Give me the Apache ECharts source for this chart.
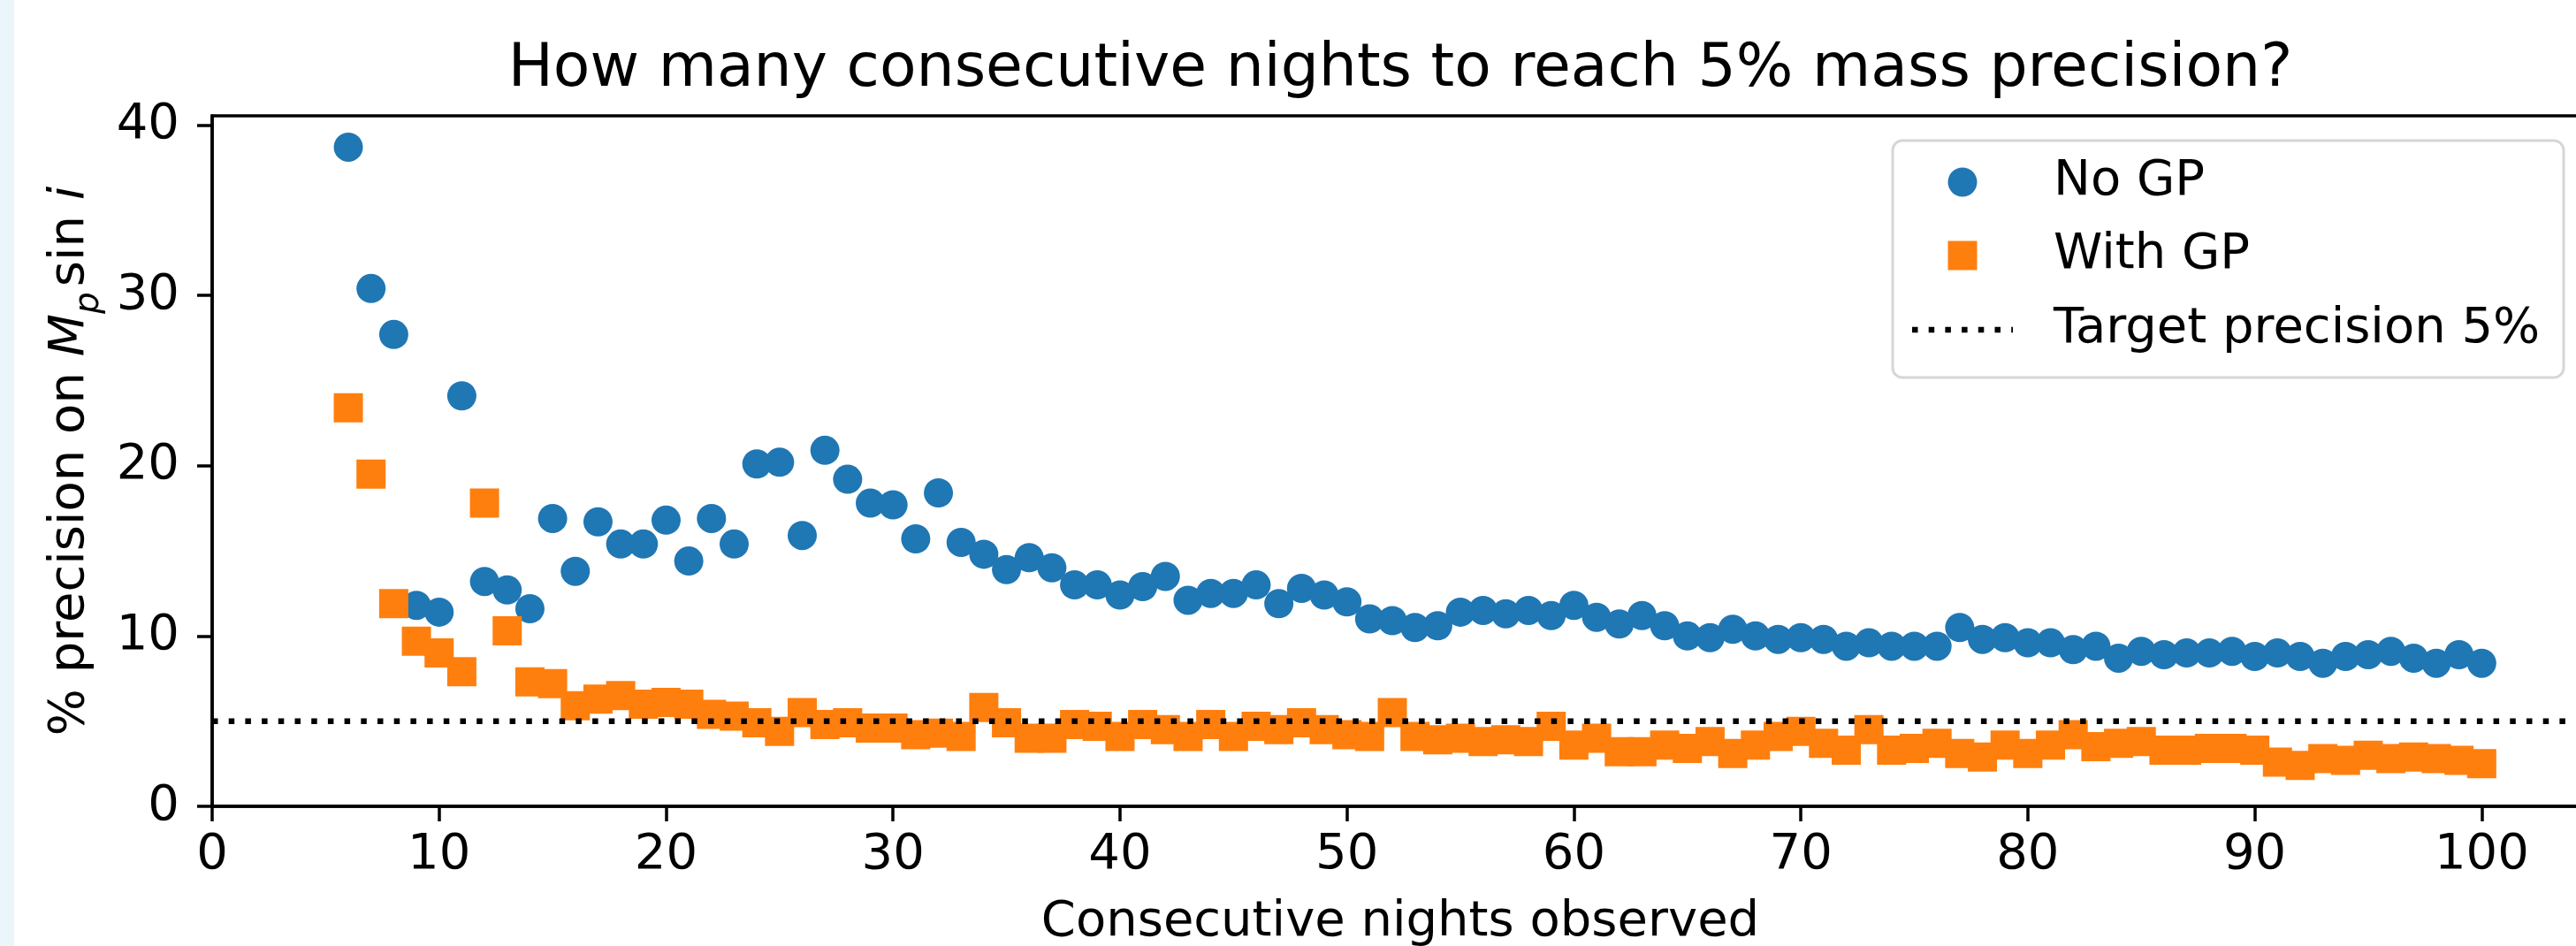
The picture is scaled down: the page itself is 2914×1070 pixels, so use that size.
<!DOCTYPE html>
<html>
<head>
<meta charset="utf-8">
<title>Consecutive nights vs mass precision</title>
<script src="https://cdn.jsdelivr.net/npm/echarts@6/dist/echarts.min.js"></script>
<style>
  html, body { margin: 0; padding: 0; background: #ffffff; overflow: hidden; }
  #chart { width: 2914px; height: 1070px; }
</style>
</head>
<body>
<div id="chart"></div>
<script>
// Number of consecutive nights in each simulated observing run
const nights = [
  6, 7, 8, 9, 10, 11, 12, 13, 14, 15, 16, 17, 18, 19, 20, 21, 22, 23, 24, 25,
  26, 27, 28, 29, 30, 31, 32, 33, 34, 35, 36, 37, 38, 39, 40, 41, 42, 43, 44, 45,
  46, 47, 48, 49, 50, 51, 52, 53, 54, 55, 56, 57, 58, 59, 60, 61, 62, 63, 64, 65,
  66, 67, 68, 69, 70, 71, 72, 73, 74, 75, 76, 77, 78, 79, 80, 81, 82, 83, 84, 85,
  86, 87, 88, 89, 90, 91, 92, 93, 94, 95, 96, 97, 98, 99, 100
];

// % precision on Mp sin i, fit without a Gaussian process
const noGP = [
  38.7, 30.4, 27.7, 11.8, 11.4, 24.1, 13.2, 12.7, 11.6, 16.9, 13.8, 16.7, 15.4, 15.4, 16.8, 14.4, 16.9, 15.4, 20.1, 20.2,
  15.9, 20.9, 19.2, 17.8, 17.7, 15.7, 18.4, 15.5, 14.8, 13.9, 14.6, 14.0, 13.0, 13.0, 12.4, 12.9, 13.5, 12.1, 12.5, 12.5,
  13.0, 11.9, 12.8, 12.4, 12.0, 11.0, 10.9, 10.5, 10.6, 11.4, 11.5, 11.3, 11.5, 11.2, 11.8, 11.1, 10.7, 11.2, 10.6, 10.0,
  9.9, 10.4, 10.0, 9.8, 9.9, 9.8, 9.4, 9.6, 9.4, 9.4, 9.4, 10.5, 9.8, 9.9, 9.6, 9.6, 9.2, 9.4, 8.7, 9.1,
  8.9, 9.0, 9.0, 9.1, 8.8, 9.0, 8.8, 8.4, 8.8, 8.9, 9.1, 8.7, 8.4, 8.9, 8.4
];

// % precision on Mp sin i, fit with a Gaussian process
const withGP = [
  23.4, 19.5, 11.9, 9.7, 9.0, 7.9, 17.8, 10.3, 7.3, 7.2, 5.9, 6.3, 6.5, 6.0, 6.1, 6.0, 5.4, 5.3, 4.9, 4.4,
  5.5, 4.8, 4.9, 4.6, 4.6, 4.2, 4.3, 4.1, 5.8, 4.9, 4.0, 4.0, 4.8, 4.7, 4.1, 4.8, 4.5, 4.1, 4.8, 4.1,
  4.7, 4.5, 4.9, 4.5, 4.2, 4.1, 5.5, 4.1, 3.9, 4.0, 3.8, 3.9, 3.8, 4.7, 3.6, 4.0, 3.2, 3.2, 3.6, 3.4,
  3.8, 3.1, 3.6, 4.1, 4.4, 3.7, 3.3, 4.5, 3.3, 3.4, 3.7, 3.1, 2.9, 3.6, 3.1, 3.6, 4.2, 3.5, 3.7, 3.8,
  3.3, 3.3, 3.4, 3.4, 3.3, 2.6, 2.4, 2.8, 2.7, 3.0, 2.8, 2.9, 2.8, 2.7, 2.5
];

const targetPrecision = 5;

const xTicks = [0, 10, 20, 30, 40, 50, 60, 70, 80, 90, 100];
const yTicks = [0, 10, 20, 30, 40];
const xRange = [0, 104.7];
const yRange = [0, 40.54];

const FONT = 'DejaVu Sans';
const BLUE = '#1f77b4';
const ORANGE = '#ff7f0e';
const DOT = [6.5, 12.2];

const noGPPoints = nights.map((n, i) => [n, noGP[i]]);
const withGPPoints = nights.map((n, i) => [n, withGP[i]]);
const targetLine = [[xRange[0], targetPrecision], [xRange[1], targetPrecision]];

const chart = echarts.init(document.getElementById('chart'), null, { renderer: 'canvas' });

const axisCommon = {
  type: 'value',
  interval: 10,
  splitLine: { show: false },
  axisLine: { show: true, onZero: false, lineStyle: { color: '#000', width: 3.5 } },
  axisTick: { show: true, length: 17, lineStyle: { color: '#000', width: 3.5 } },
  axisLabel: { color: '#000', fontSize: 56, fontFamily: FONT, lineHeight: 56 }
};

chart.setOption({
  animation: false,
  backgroundColor: '#ffffff',
  title: {
    text: 'How many consecutive nights to reach 5% mass precision?',
    left: 1584,
    top: 45,
    textAlign: 'center',
    padding: 0,
    textStyle: { fontSize: 68, fontWeight: 'normal', color: '#000', fontFamily: FONT, lineHeight: 68 }
  },
  grid: {
    left: 240, top: 131, right: -14, bottom: 158,
    outerBoundsMode: 'none',
    containLabel: false,
    show: true, borderColor: '#000', borderWidth: 3.5, backgroundColor: 'transparent'
  },
  xAxis: Object.assign({}, axisCommon, {
    min: xRange[0], max: xRange[1],
    axisTick: Object.assign({}, axisCommon.axisTick, { customValues: xTicks }),
    axisLabel: Object.assign({}, axisCommon.axisLabel, { customValues: xTicks, margin: 27 }),
    name: 'Consecutive nights observed',
    nameLocation: 'middle',
    nameGap: 103,
    nameTextStyle: { color: '#000', fontSize: 56, fontFamily: FONT, lineHeight: 56 }
  }),
  yAxis: Object.assign({}, axisCommon, {
    min: yRange[0], max: yRange[1],
    axisTick: Object.assign({}, axisCommon.axisTick, { customValues: yTicks }),
    axisLabel: Object.assign({}, axisCommon.axisLabel, { customValues: yTicks, margin: 37 }),
    name: '{n|% precision on }{it|M}{sub|p}{n|sin }{it|i}',
    nameLocation: 'middle',
    nameGap: 123,
    nameTextStyle: {
      color: '#000', fontSize: 56, fontFamily: FONT,
      rich: {
        n: { fontSize: 56, lineHeight: 56, fontFamily: FONT, color: '#000', verticalAlign: 'top' },
        it: { fontSize: 56, lineHeight: 56, fontFamily: FONT, fontStyle: 'italic', color: '#000', verticalAlign: 'top' },
        sub: { fontSize: 39, lineHeight: 39, fontFamily: FONT, fontStyle: 'italic', color: '#000', verticalAlign: 'top', padding: [30, 6, 0, 0] }
      }
    }
  }),
  series: [
    {
      name: 'No GP', type: 'scatter', data: noGPPoints,
      symbol: 'circle', symbolSize: 33, z: 2,
      itemStyle: { color: BLUE, opacity: 1 }
    },
    {
      name: 'With GP', type: 'scatter', data: withGPPoints,
      symbol: 'rect', symbolSize: 33, z: 3,
      itemStyle: { color: ORANGE, opacity: 1 }
    },
    {
      name: 'Target precision 5%', type: 'line', data: targetLine,
      symbol: 'none', z: 4, silent: true,
      lineStyle: { color: '#000', width: 6.5, type: DOT, dashOffset: 0, cap: 'butt' }
    }
  ],
  graphic: [
    { type: 'rect', silent: true, z: -10, shape: { x: 0, y: 0, width: 16, height: 1070 }, style: { fill: '#eaf6f9' } },
    // legend box
    { type: 'rect', silent: true, z: 50, shape: { x: 2141, y: 159, width: 759, height: 268, r: 11 },
      style: { fill: 'rgba(255,255,255,0.85)', stroke: '#d6d6d6', lineWidth: 3 } },
    { type: 'circle', silent: true, z: 51, shape: { cx: 2220, cy: 206, r: 16.5 }, style: { fill: BLUE } },
    { type: 'rect', silent: true, z: 51, shape: { x: 2203.5, y: 272.5, width: 33, height: 33 }, style: { fill: ORANGE } },
    { type: 'line', silent: true, z: 51, shape: { x1: 2163, y1: 373, x2: 2277, y2: 373 },
      style: { stroke: '#000', lineWidth: 6.5, lineDash: DOT, lineCap: 'butt' } },
    { type: 'text', silent: true, z: 51, x: 2323, y: 205,
      style: { text: 'No GP', fill: '#000', font: '56px "DejaVu Sans"', verticalAlign: 'middle', align: 'left' } },
    { type: 'text', silent: true, z: 51, x: 2323, y: 288,
      style: { text: 'With GP', fill: '#000', font: '56px "DejaVu Sans"', verticalAlign: 'middle', align: 'left' } },
    { type: 'text', silent: true, z: 51, x: 2323, y: 372,
      style: { text: 'Target precision 5%', fill: '#000', font: '56px "DejaVu Sans"', verticalAlign: 'middle', align: 'left' } }
  ]
});
</script>
</body>
</html>
